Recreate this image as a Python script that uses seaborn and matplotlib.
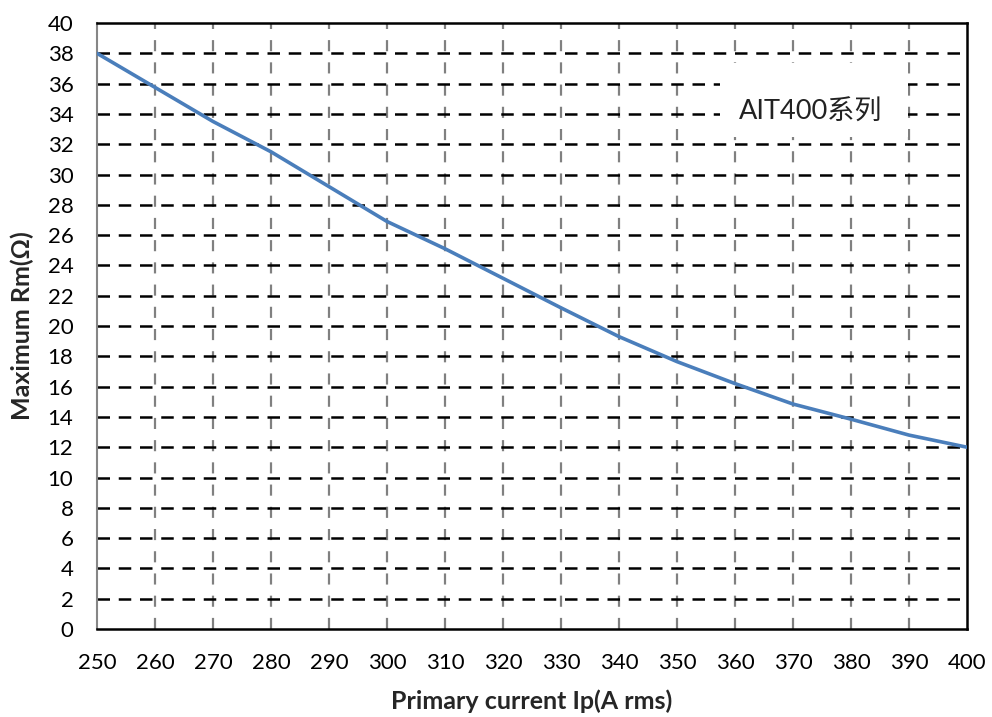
import matplotlib
matplotlib.use("Agg")
import matplotlib.pyplot as plt
from matplotlib.patches import Rectangle
import seaborn as sns
import pandas as pd

current = [250, 260, 270, 280, 290, 300, 310, 320, 330, 340, 350, 360, 370, 380, 390, 400]
rm = [38.0, 35.75, 33.5, 31.5, 29.2, 26.9, 25.1, 23.15, 21.2, 19.3, 17.65, 16.2, 14.85, 13.85, 12.8, 12.0]
x_ticks = list(range(250, 401, 10))
y_ticks = list(range(0, 41, 2))
label_text = "AIT400系列"

sns.set_theme(style="white")
plt.rcParams['font.family'] = ['Lato', 'Noto Sans CJK SC', 'DejaVu Sans']

df = pd.DataFrame({"Ip": current, "Rm": rm})

fig = plt.figure(figsize=(9.92, 7.17), dpi=100)
ax = fig.add_axes([0.0978, 0.1227, 0.8770, 0.8452])

# grid lines
for xv in x_ticks[1:-1]:
    ax.axvline(xv, color="#808080", lw=1.6, ls=(0, (5, 5)), zorder=1)
for yv in y_ticks[1:-1]:
    ax.axhline(yv, color="black", lw=1.8, ls=(0, (5, 3.5)), zorder=1)

sns.lineplot(data=df, x="Ip", y="Rm", ax=ax, color="#4a7ebb", lw=2.6, zorder=4)

ax.set_xlim(250, 400)
ax.set_ylim(0, 40)
ax.set_xticks(x_ticks)
ax.set_yticks(y_ticks)
ax.tick_params(axis="both", length=0, labelsize=16, colors="black")
ax.tick_params(axis="x", pad=17)
ax.tick_params(axis="y", pad=17)

for s in ["top", "right", "bottom"]:
    ax.spines[s].set_color("black")
    ax.spines[s].set_linewidth(1.8)
ax.spines["left"].set_color("#868686")
ax.spines["left"].set_linewidth(1.5)

ax.set_xlabel("Primary current Ip(A rms)", fontsize=18, fontweight="bold", labelpad=12)
ax.set_ylabel("Maximum Rm(Ω)", fontsize=18, fontweight="bold", labelpad=10)

ax.add_patch(Rectangle((0.716, 0.812), 0.216, 0.122, transform=ax.transAxes,
                       facecolor="white", edgecolor="none", zorder=2))
ax.text(0.820, 0.853, label_text, transform=ax.transAxes, ha="center", va="center",
        fontsize=19.5, color="#222222", zorder=3)

fig.savefig("out.png", dpi=100)
